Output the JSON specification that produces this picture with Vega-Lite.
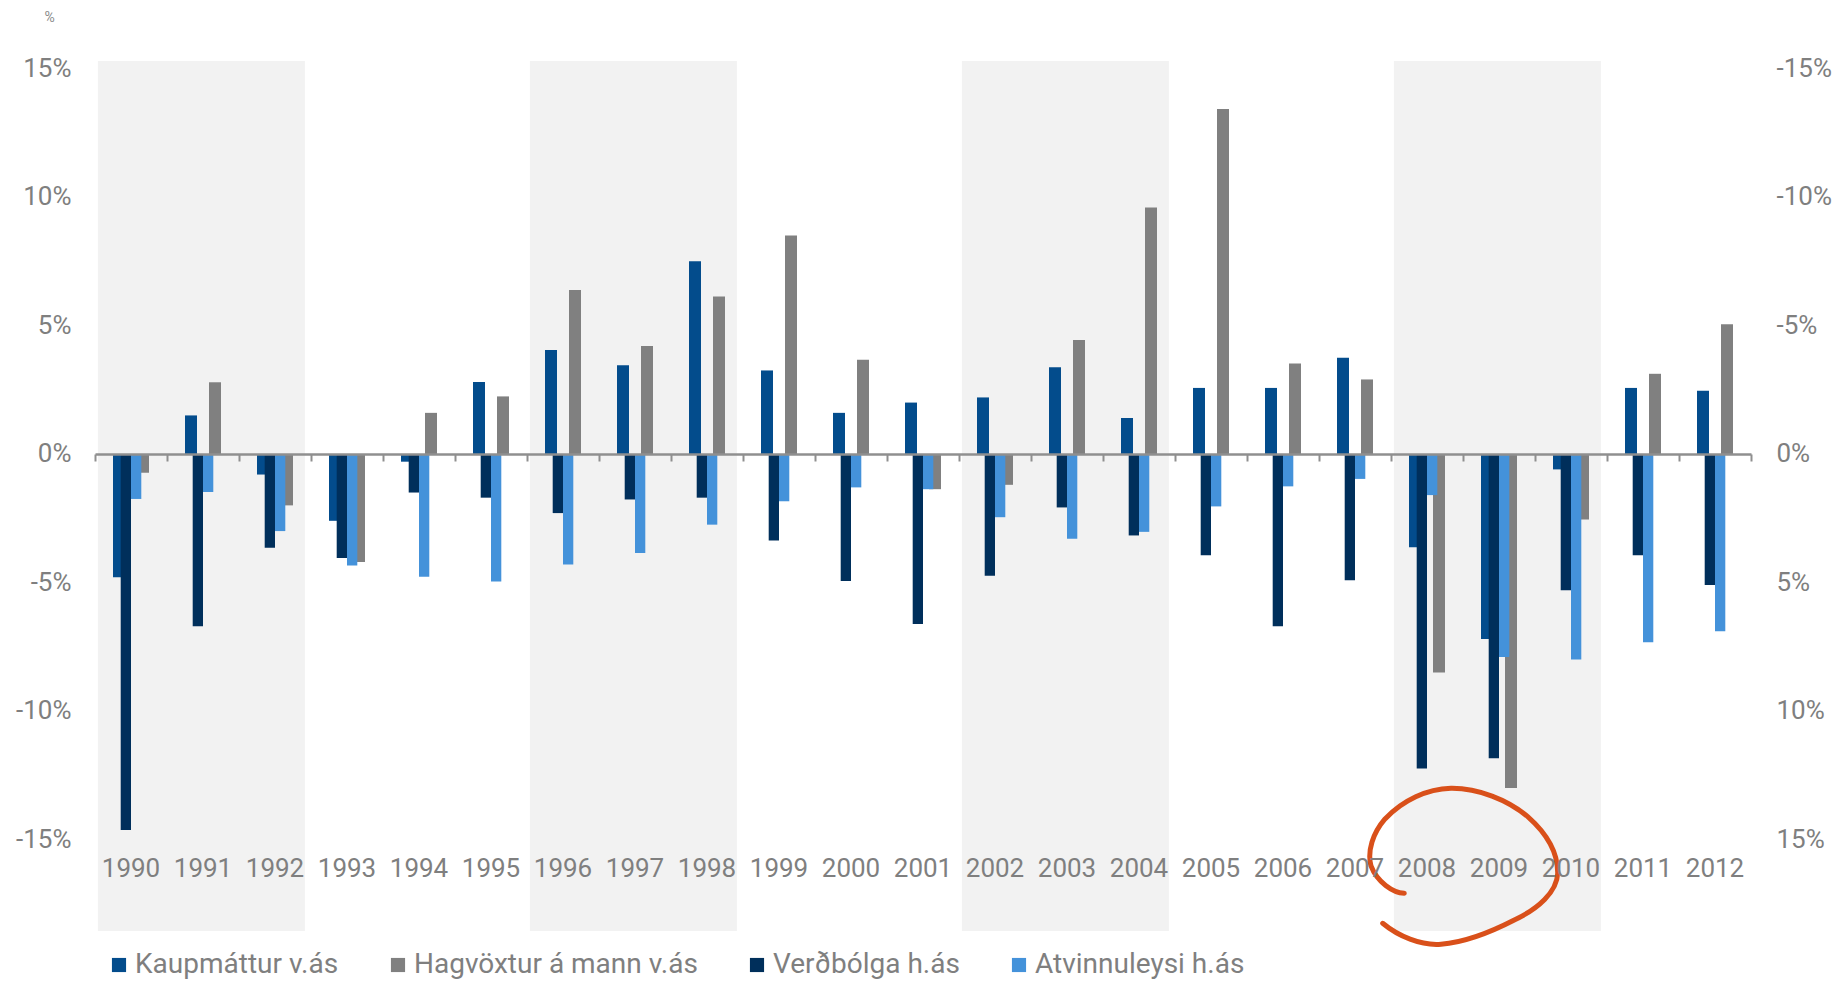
{
  "$schema": "https://vega.github.io/schema/vega-lite/v6.json",
  "width": 1656,
  "height": 870,
  "autosize": {"type": "none"},
  "padding": {"left": 95, "top": 61, "right": 86, "bottom": 50},
  "background": "white",
  "config": {
    "font": "Roboto",
    "view": {"stroke": null},
    "axis": {"grid": false, "labelColor": "#7f7f7f", "labelFontSize": 26, "labelFont": "Roboto"}
  },
  "datasets": {
    "bands": [
      {"start": "1990", "end": "1992"},
      {"start": "1996", "end": "1998"},
      {"start": "2002", "end": "2004"},
      {"start": "2008", "end": "2010"}
    ],
    "left": [
      {"year":"1990","series":"Kaupmáttur v.ás","value":-4.8},
      {"year":"1991","series":"Kaupmáttur v.ás","value":1.5},
      {"year":"1992","series":"Kaupmáttur v.ás","value":-0.8},
      {"year":"1993","series":"Kaupmáttur v.ás","value":-2.6},
      {"year":"1994","series":"Kaupmáttur v.ás","value":-0.3},
      {"year":"1995","series":"Kaupmáttur v.ás","value":2.8},
      {"year":"1996","series":"Kaupmáttur v.ás","value":4.05},
      {"year":"1997","series":"Kaupmáttur v.ás","value":3.45},
      {"year":"1998","series":"Kaupmáttur v.ás","value":7.5},
      {"year":"1999","series":"Kaupmáttur v.ás","value":3.25},
      {"year":"2000","series":"Kaupmáttur v.ás","value":1.6},
      {"year":"2001","series":"Kaupmáttur v.ás","value":2.0},
      {"year":"2002","series":"Kaupmáttur v.ás","value":2.2},
      {"year":"2003","series":"Kaupmáttur v.ás","value":3.37},
      {"year":"2004","series":"Kaupmáttur v.ás","value":1.4},
      {"year":"2005","series":"Kaupmáttur v.ás","value":2.57},
      {"year":"2006","series":"Kaupmáttur v.ás","value":2.57},
      {"year":"2007","series":"Kaupmáttur v.ás","value":3.74},
      {"year":"2008","series":"Kaupmáttur v.ás","value":-3.63},
      {"year":"2009","series":"Kaupmáttur v.ás","value":-7.2},
      {"year":"2010","series":"Kaupmáttur v.ás","value":-0.6},
      {"year":"2011","series":"Kaupmáttur v.ás","value":2.57},
      {"year":"2012","series":"Kaupmáttur v.ás","value":2.46},
      {"year":"1990","series":"Hagvöxtur á mann v.ás","value":-0.73},
      {"year":"1991","series":"Hagvöxtur á mann v.ás","value":2.79},
      {"year":"1992","series":"Hagvöxtur á mann v.ás","value":-2.0},
      {"year":"1993","series":"Hagvöxtur á mann v.ás","value":-4.2},
      {"year":"1994","series":"Hagvöxtur á mann v.ás","value":1.6},
      {"year":"1995","series":"Hagvöxtur á mann v.ás","value":2.24},
      {"year":"1996","series":"Hagvöxtur á mann v.ás","value":6.38},
      {"year":"1997","series":"Hagvöxtur á mann v.ás","value":4.2},
      {"year":"1998","series":"Hagvöxtur á mann v.ás","value":6.13},
      {"year":"1999","series":"Hagvöxtur á mann v.ás","value":8.5},
      {"year":"2000","series":"Hagvöxtur á mann v.ás","value":3.67},
      {"year":"2001","series":"Hagvöxtur á mann v.ás","value":-1.37},
      {"year":"2002","series":"Hagvöxtur á mann v.ás","value":-1.2},
      {"year":"2003","series":"Hagvöxtur á mann v.ás","value":4.43},
      {"year":"2004","series":"Hagvöxtur á mann v.ás","value":9.59},
      {"year":"2005","series":"Hagvöxtur á mann v.ás","value":13.42},
      {"year":"2006","series":"Hagvöxtur á mann v.ás","value":3.52},
      {"year":"2007","series":"Hagvöxtur á mann v.ás","value":2.9},
      {"year":"2008","series":"Hagvöxtur á mann v.ás","value":-8.5},
      {"year":"2009","series":"Hagvöxtur á mann v.ás","value":-13.0},
      {"year":"2010","series":"Hagvöxtur á mann v.ás","value":-2.55},
      {"year":"2011","series":"Hagvöxtur á mann v.ás","value":3.12},
      {"year":"2012","series":"Hagvöxtur á mann v.ás","value":5.05}
    ],
    "right": [
      {"year":"1990","series":"Verðbólga h.ás","value":14.63},
      {"year":"1991","series":"Verðbólga h.ás","value":6.7},
      {"year":"1992","series":"Verðbólga h.ás","value":3.65},
      {"year":"1993","series":"Verðbólga h.ás","value":4.05},
      {"year":"1994","series":"Verðbólga h.ás","value":1.5},
      {"year":"1995","series":"Verðbólga h.ás","value":1.7},
      {"year":"1996","series":"Verðbólga h.ás","value":2.3},
      {"year":"1997","series":"Verðbólga h.ás","value":1.77},
      {"year":"1998","series":"Verðbólga h.ás","value":1.7},
      {"year":"1999","series":"Verðbólga h.ás","value":3.37},
      {"year":"2000","series":"Verðbólga h.ás","value":4.94},
      {"year":"2001","series":"Verðbólga h.ás","value":6.62},
      {"year":"2002","series":"Verðbólga h.ás","value":4.74},
      {"year":"2003","series":"Verðbólga h.ás","value":2.08},
      {"year":"2004","series":"Verðbólga h.ás","value":3.17},
      {"year":"2005","series":"Verðbólga h.ás","value":3.94},
      {"year":"2006","series":"Verðbólga h.ás","value":6.7},
      {"year":"2007","series":"Verðbólga h.ás","value":4.91},
      {"year":"2008","series":"Verðbólga h.ás","value":12.24},
      {"year":"2009","series":"Verðbólga h.ás","value":11.84},
      {"year":"2010","series":"Verðbólga h.ás","value":5.3},
      {"year":"2011","series":"Verðbólga h.ás","value":3.94},
      {"year":"2012","series":"Verðbólga h.ás","value":5.1},
      {"year":"1990","series":"Atvinnuleysi h.ás","value":1.75},
      {"year":"1991","series":"Atvinnuleysi h.ás","value":1.48},
      {"year":"1992","series":"Atvinnuleysi h.ás","value":3.0},
      {"year":"1993","series":"Atvinnuleysi h.ás","value":4.34},
      {"year":"1994","series":"Atvinnuleysi h.ás","value":4.78},
      {"year":"1995","series":"Atvinnuleysi h.ás","value":4.96},
      {"year":"1996","series":"Atvinnuleysi h.ás","value":4.3},
      {"year":"1997","series":"Atvinnuleysi h.ás","value":3.85},
      {"year":"1998","series":"Atvinnuleysi h.ás","value":2.75},
      {"year":"1999","series":"Atvinnuleysi h.ás","value":1.84},
      {"year":"2000","series":"Atvinnuleysi h.ás","value":1.3},
      {"year":"2001","series":"Atvinnuleysi h.ás","value":1.37},
      {"year":"2002","series":"Atvinnuleysi h.ás","value":2.46},
      {"year":"2003","series":"Atvinnuleysi h.ás","value":3.3},
      {"year":"2004","series":"Atvinnuleysi h.ás","value":3.03},
      {"year":"2005","series":"Atvinnuleysi h.ás","value":2.04},
      {"year":"2006","series":"Atvinnuleysi h.ás","value":1.26},
      {"year":"2007","series":"Atvinnuleysi h.ás","value":0.97},
      {"year":"2008","series":"Atvinnuleysi h.ás","value":1.6},
      {"year":"2009","series":"Atvinnuleysi h.ás","value":7.9},
      {"year":"2010","series":"Atvinnuleysi h.ás","value":8.0},
      {"year":"2011","series":"Atvinnuleysi h.ás","value":7.33},
      {"year":"2012","series":"Atvinnuleysi h.ás","value":6.9}
    ],
    "note": [{"year": "2009", "value": -16.03}]
  },
  "layer": [
    {
      "data": {"name": "bands"},
      "mark": {"type": "rect", "color": "#f2f2f2"},
      "encoding": {
        "x": {"field": "start", "type": "nominal", "bandPosition": 0.04,
              "scale": {"domain": ["1990","1991","1992","1993","1994","1995","1996","1997","1998","1999","2000","2001","2002","2003","2004","2005","2006","2007","2008","2009","2010","2011","2012"], "paddingInner": 0, "paddingOuter": 0},
              "axis": null},
        "x2": {"field": "end", "bandPosition": 0.915}
      }
    },
    {
      "data": {"name": "left"},
      "mark": {"type": "bar"},
      "encoding": {
        "x": {"field": "year", "type": "nominal",
              "scale": {"domain": ["1990","1991","1992","1993","1994","1995","1996","1997","1998","1999","2000","2001","2002","2003","2004","2005","2006","2007","2008","2009","2010","2011","2012"], "paddingInner": 0, "paddingOuter": 0},
              "axis": {"orient": "bottom", "title": null, "domain": false, "ticks": false, "tickSize": 0, "labelPadding": 0, "labelBaseline": "middle", "offset": -63, "labelAngle": 0, "labelFontSize": 26, "labelColor": "#7f7f7f", "zindex": 1}},
        "xOffset": {"field": "series", "type": "nominal",
                    "scale": {"domain": ["Kaupmáttur v.ás", "Hagvöxtur á mann v.ás"], "paddingInner": 0.5, "paddingOuter": 0.75}},
        "y": {"field": "value", "type": "quantitative",
              "scale": {"domain": [-18.56, 15.29], "nice": false, "zero": false},
              "axis": {"orient": "left", "values": [-15, -10, -5, 0, 5, 10, 15], "labelExpr": "datum.value + '%'", "domain": false, "ticks": false, "tickSize": 0, "labelPadding": 24, "labelFontSize": 26, "labelColor": "#7f7f7f",
                       "title": "%", "titleAngle": 0, "titleX": -46, "titleY": -44, "titleFontSize": 14, "titleFontWeight": "normal", "titleColor": "#8c8c8c", "titleAlign": "center", "titleBaseline": "middle"}},
        "y2": {"datum": 0},
        "color": {"field": "series", "type": "nominal",
                  "scale": {"domain": ["Kaupmáttur v.ás", "Hagvöxtur á mann v.ás", "Verðbólga h.ás", "Atvinnuleysi h.ás"], "range": ["#034c8c", "#808080", "#002f5b", "#4492da"]},
                  "legend": {"title": null, "orient": "none", "legendX": 10, "legendY": 890, "direction": "horizontal", "symbolType": "square", "symbolSize": 200, "symbolStrokeWidth": 0, "symbolOpacity": 1, "labelFontSize": 28, "labelColor": "#7f7f7f", "labelOffset": 2, "labelLimit": 0, "columnPadding": 45, "labelFont": "Roboto"}}
      }
    },
    {
      "data": {"name": "right"},
      "mark": {"type": "bar"},
      "encoding": {
        "x": {"field": "year", "type": "nominal",
              "scale": {"domain": ["1990","1991","1992","1993","1994","1995","1996","1997","1998","1999","2000","2001","2002","2003","2004","2005","2006","2007","2008","2009","2010","2011","2012"], "paddingInner": 0, "paddingOuter": 0},
              "axis": {"orient": "bottom", "title": null, "labels": false, "domain": true, "domainColor": "#8f8f8f", "domainWidth": 2.5, "ticks": true, "tickBand": "extent", "tickSize": 7, "tickWidth": 2, "tickColor": "#8f8f8f", "offset": -477, "zindex": 1}},
        "xOffset": {"field": "series", "type": "nominal",
                    "scale": {"domain": ["Verðbólga h.ás", "Atvinnuleysi h.ás"], "range": [25.7, 46.3], "paddingInner": 0, "paddingOuter": 0}},
        "y": {"field": "value", "type": "quantitative",
              "scale": {"domain": [-15.29, 18.56], "nice": false, "zero": false, "reverse": true},
              "axis": {"orient": "right", "values": [-15, -10, -5, 0, 5, 10, 15], "labelExpr": "datum.value + '%'", "domain": false, "ticks": false, "tickSize": 0, "labelPadding": 25, "labelAlign": "left", "labelFontSize": 26, "labelColor": "#7f7f7f", "title": null}},
        "y2": {"datum": 0},
        "color": {"field": "series", "type": "nominal",
                  "scale": {"domain": ["Kaupmáttur v.ás", "Hagvöxtur á mann v.ás", "Verðbólga h.ás", "Atvinnuleysi h.ás"], "range": ["#034c8c", "#808080", "#002f5b", "#4492da"]}}
      }
    },
    {
      "data": {"name": "note"},
      "mark": {"type": "point", "filled": false, "stroke": "#d9501a", "strokeWidth": 5, "strokeCap": "round", "strokeJoin": "round", "opacity": 1, "size": 40000,
               "shape": "M-0.587,0.273 C-0.7,0.27 -0.86,0.16 -0.92,0 C-0.96,-0.15 -0.9,-0.33 -0.78,-0.47 C-0.6,-0.66 -0.36,-0.77 -0.12,-0.777 C0.15,-0.78 0.45,-0.66 0.647,-0.493 C0.82,-0.34 0.95,-0.15 0.947,0.073 C0.94,0.26 0.75,0.43 0.513,0.54 C0.3,0.65 0.05,0.76 -0.22,0.783 C-0.42,0.8 -0.65,0.7 -0.803,0.573"},
      "encoding": {
        "x": {"field": "year", "type": "nominal", "bandPosition": 0,
              "scale": {"domain": ["1990","1991","1992","1993","1994","1995","1996","1997","1998","1999","2000","2001","2002","2003","2004","2005","2006","2007","2008","2009","2010","2011","2012"], "paddingInner": 0, "paddingOuter": 0},
              "axis": null},
        "y": {"field": "value", "type": "quantitative",
              "scale": {"domain": [-18.56, 15.29], "nice": false, "zero": false},
              "axis": null}
      }
    }
  ],
  "resolve": {
    "scale": {"y": "independent", "xOffset": "independent"},
    "axis": {"x": "independent", "y": "independent"}
  }
}
